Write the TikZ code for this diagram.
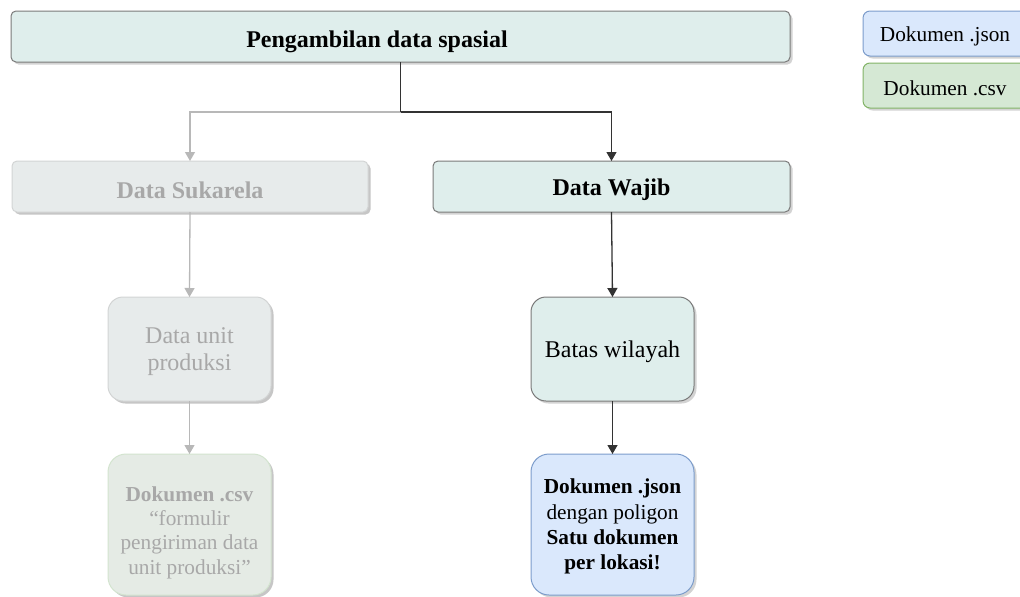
\documentclass[tikz,border=0pt]{standalone}
\usepackage{fontspec}
\setmainfont{Liberation Serif}
\usetikzlibrary{arrows.meta,shadows}
\definecolor{tealfill}{HTML}{DFEEEC}
\definecolor{tealdraw}{HTML}{7A7A7A}
\definecolor{grayfill}{HTML}{E7EBEB}
\definecolor{graydraw}{HTML}{D2D4D4}
\definecolor{graytext}{HTML}{A8A8A8}
\definecolor{gcsvfill}{HTML}{E5EBE5}
\definecolor{gcsvdraw}{HTML}{D3E4CF}
\definecolor{jsonfill}{HTML}{DAE8FC}
\definecolor{jsondraw}{HTML}{7C9CCB}
\definecolor{csvfill}{HTML}{D5E8D4}
\definecolor{csvdraw}{HTML}{82B366}
\definecolor{connblack}{HTML}{333333}
\definecolor{conngray}{HTML}{B8B8B8}
\tikzset{
  boxbase/.style={anchor=north west, inner sep=0pt, outer sep=0pt, line width=1pt,
    drop shadow={shadow xshift=2.5pt, shadow yshift=-2.5pt, opacity=0.35, fill=gray}},
  tealbox/.style={boxbase, fill=tealfill, draw=tealdraw},
  graybox/.style={boxbase, fill=grayfill, draw=graydraw,
    drop shadow={shadow xshift=2.5pt, shadow yshift=-2.5pt, opacity=0.15, fill=gray}},
  gcsvbox/.style={boxbase, fill=gcsvfill, draw=gcsvdraw,
    drop shadow={shadow xshift=2.5pt, shadow yshift=-2.5pt, opacity=0.15, fill=gray}},
  jsonbox/.style={boxbase, fill=jsonfill, draw=jsondraw},
  csvbox/.style={boxbase, fill=csvfill, draw=csvdraw},
  conn/.style={draw=connblack, line width=1.3pt, -{Triangle[width=10pt,length=9pt]}},
  gconn/.style={draw=conngray, line width=1.3pt, -{Triangle[width=10pt,length=9pt]}},
  big/.style={font=\fontsize{24}{27}\selectfont, align=center, inner sep=0pt},
  small/.style={font=\fontsize{21.3}{25.2}\selectfont, align=center, inner sep=0pt},
  gtext/.style={text=graytext},
}
\begin{document}
\begin{tikzpicture}[x=1pt,y=-1pt]
\useasboundingbox (0,0) rectangle (1020,597);
% top
\node[tealbox, rounded corners=5pt, minimum width=779pt, minimum height=51pt,
  label={[big, xshift=-23.5pt, yshift=-5pt]center:\textbf{Pengambilan data spasial}}] (top) at (11,11) {};
% legend
\node[jsonbox, rounded corners=7pt, minimum width=170pt, minimum height=45pt,
  label={[small, xshift=-3pt, yshift=-3pt]center:Dokumen .json}] (ljson) at (863,11) {};
\node[csvbox, rounded corners=7pt, minimum width=170pt, minimum height=45pt,
  label={[small, xshift=-3pt, yshift=-3pt]center:Dokumen .csv}] (lcsv) at (863,63) {};
% level 2
\node[graybox, rounded corners=5pt, minimum width=356pt, minimum height=51pt,
  label={[big, gtext, yshift=-3.5pt]center:\textbf{Data Sukarela}}] (suk) at (12,161) {};
\node[tealbox, rounded corners=5pt, minimum width=357pt, minimum height=51pt,
  label={[big, yshift=-3.5pt]center:\textbf{Data Wajib}}] (wajib) at (433,161) {};
% level 3
\node[graybox, rounded corners=15pt, minimum width=163pt, minimum height=104pt,
  label={[big, gtext, yshift=-3pt]center:Data unit\\produksi}] (unit) at (108,297) {};
\node[tealbox, rounded corners=15pt, minimum width=163pt, minimum height=104pt,
  label={[big, yshift=-3pt]center:Batas wilayah}] (batas) at (531,297) {};
% level 4
\node[gcsvbox, rounded corners=18pt, minimum width=163pt, minimum height=141pt,
  label={[small, gtext, font=\fontsize{21.3}{24.3}\selectfont, yshift=-8pt]center:\textbf{Dokumen .csv}\\``formulir\\pengiriman data\\unit produksi''}] (dcsv) at (108,454) {};
\node[jsonbox, rounded corners=18pt, minimum width=163pt, minimum height=141pt,
  label={[small, yshift=-2pt]center:\textbf{Dokumen .json}\\dengan poligon\\\textbf{Satu dokumen}\\\textbf{per lokasi!}}] (djson) at (531,454) {};
% connectors
\coordinate (j) at (400.5,112);
\draw[gconn] (j) -| (suk.north);
\draw[draw=connblack, line width=1.3pt] (top.south) -- (j);
\draw[conn] (j) -| (wajib.north);
\draw[gconn] (suk.south) -- (unit.north);
\draw[gconn] (unit.south) -- (dcsv.north);
\draw[conn] (wajib.south) -- (batas.north);
\draw[conn] (batas.south) -- (djson.north);
\end{tikzpicture}
\end{document}
